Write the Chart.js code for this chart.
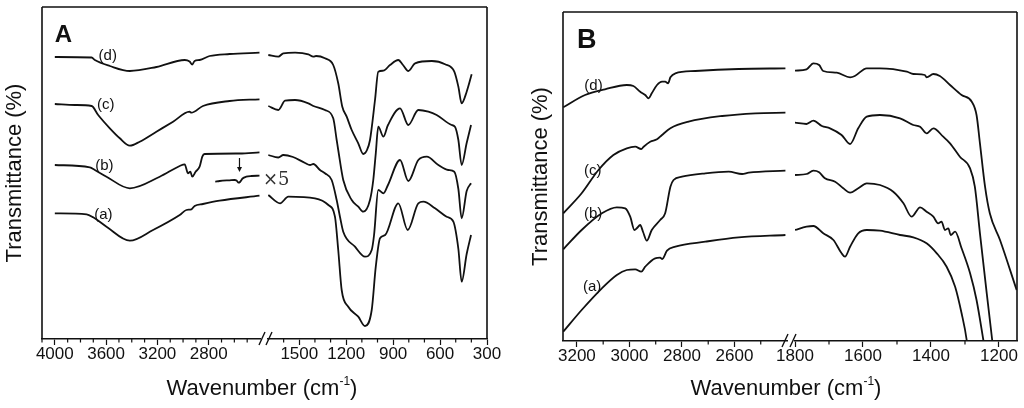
<!DOCTYPE html>
<html>
<head>
<meta charset="utf-8">
<script src="https://cdn.jsdelivr.net/npm/chart.js@4.4.1/dist/chart.umd.min.js"></script>
<style>
  html, body { margin: 0; padding: 0; background: #fff; }
  #wrap { position: relative; width: 1024px; height: 408px; overflow: hidden; font-family: "Liberation Sans", Arial, sans-serif; }
  canvas { position: absolute; top: 0; }
  .xtitle { position: absolute; top: 377px; font-size: 22px; line-height: 22px; white-space: nowrap; transform: translateX(-50%); color: #111; }
  .xtitle sup { font-size: 12px; vertical-align: 0; position: relative; top: -10px; }
</style>
</head>
<body>
<div id="wrap">
  <canvas id="aLeft" width="275" height="408" style="left:0px"></canvas>
  <canvas id="aRight" width="250" height="408" style="left:255px"></canvas>
  <canvas id="bLeft" width="274" height="408" style="left:526px"></canvas>
  <canvas id="bRight" width="252" height="408" style="left:772px"></canvas>
  <div class="xtitle" style="left:262px">Wavenumber (cm<sup>-1</sup>)</div>
  <div class="xtitle" style="left:786px">Wavenumber (cm<sup>-1</sup>)</div>
</div>
<script>
// tick labels
const aLeftTicks = [4000, 3600, 3200, 2800];
const aRightTicks = [1500, 1200, 900, 600, 300];
const bLeftTicks = [3200, 3000, 2800, 2600];
const bRightTicks = [1800, 1600, 1400, 1200];

const curveNames = ["(a)", "(b)", "(c)", "(d)"];

// panel A, 4000-2400 cm-1 (transmittance, arbitrary offset units)
const aL_d_wn = [4000, 3713, 3688, 3571, 3415, 3208, 2987, 2949, 2928, 2910, 2871, 2793, 2637, 2404];
const aL_d_t = [282, 281.5, 279, 273, 268, 272, 279, 277.5, 274.5, 278, 279, 283, 285, 286.3];
const aL_c_wn = [4000, 3843, 3713, 3662, 3571, 3493, 3415, 3338, 3208, 3078, 2949, 2935, 2845, 2637, 2404];
const aL_c_t = [235, 234, 233, 224, 210.7, 200.7, 193.3, 197.3, 207.3, 217.3, 227.3, 226.3, 233, 238, 239.7];
const aL_b_wn = [4000, 3727, 3688, 3597, 3415, 3182, 3026, 2987, 2962, 2943, 2928, 2902, 2871, 2850, 2832, 2560, 2404];
const aL_b_t = [174, 171.7, 169, 162.3, 150.7, 162.3, 173, 174.7, 165.7, 167.3, 162.3, 167.3, 172.3, 182.3, 185, 185.5, 186.7];
const aL_a_wn = [4000, 3752, 3701, 3597, 3415, 3234, 3026, 2974, 2935, 2910, 2845, 2715, 2404];
const aL_a_t = [125.7, 124.7, 121.7, 112.3, 98.3, 109, 124, 129, 129.7, 133, 135, 138.3, 143.3];
// (b) x5 inset
const aL_x5_wn = [2749, 2715, 2637, 2598, 2583, 2567, 2556, 2536, 2507, 2466, 2404];
const aL_x5_t = [157.3, 158, 158.7, 159, 158.5, 156.3, 157, 160.5, 162.3, 163, 163.3];

// panel A, 1700-300 cm-1
const aR_d_wn = [1698, 1634, 1602, 1527, 1442, 1410, 1393, 1336, 1283, 1251, 1225, 1197, 1165, 1123, 1091, 1067, 1048, 1016, 995, 962, 920, 867, 837, 803, 760, 653, 568, 509, 483, 462, 430, 398];
const aR_d_t = [284, 282.3, 285.7, 286.3, 284.7, 282.3, 283, 280.7, 274, 255.7, 232.3, 222.3, 209, 195.7, 185, 189, 199, 239, 267.3, 268.3, 274, 279, 274, 268, 275.7, 278, 274.7, 267.3, 252.3, 235.7, 247.3, 264.7];
const aR_c_wn = [1698, 1634, 1591, 1527, 1442, 1410, 1336, 1283, 1261, 1251, 1219, 1165, 1123, 1091, 1048, 1027, 1011, 995, 962, 933, 856, 803, 739, 675, 622, 526, 505, 483, 462, 430, 402];
const aR_c_t = [233, 229, 238.3, 239, 235.7, 233, 229, 220.7, 199, 189, 159, 139, 132.3, 127.3, 139, 159, 185.7, 212.3, 202.3, 214, 230.7, 214, 229, 227.3, 224, 214, 212.3, 199, 174, 196, 214];
const aR_b_wn = [1698, 1634, 1602, 1540, 1463, 1431, 1410, 1368, 1336, 1293, 1261, 1240, 1219, 1144, 1080, 1037, 1022, 995, 962, 933, 856, 803, 739, 685, 611, 548, 509, 483, 462, 430, 402];
const aR_b_t = [184, 181.5, 184, 182, 176, 174, 175, 169, 165.7, 159, 139, 122.3, 107.3, 92.3, 82.3, 89, 104, 149, 145.7, 154, 179, 158, 179, 182.3, 174, 169, 167.3, 150, 120.7, 148, 155.7];
const aR_a_wn = [1698, 1623, 1570, 1400, 1314, 1272, 1251, 1229, 1187, 1123, 1080, 1037, 1011, 984, 951, 867, 807, 739, 707, 632, 558, 515, 483, 462, 430, 402];
const aR_a_t = [144, 135.7, 142.3, 140.7, 134, 122.3, 89, 49, 32.3, 22.3, 13, 29, 72.3, 100.7, 104, 135.7, 109, 135.7, 137.3, 130.7, 122.3, 117.3, 90, 57.3, 85, 104];

// panel B, 3250-2400 cm-1
const bL_d_wn = [3252, 3169, 3093, 3010, 2985, 2959, 2940, 2927, 2915, 2895, 2876, 2864, 2853, 2844, 2825, 2749, 2584, 2406];
const bL_d_t = [233.7, 246, 251.7, 256, 255, 249.3, 246, 242.7, 247.7, 256, 259.3, 259.3, 257.7, 263.7, 267.7, 270, 272, 272.7];
const bL_c_wn = [3252, 3182, 3118, 3061, 3010, 2978, 2955, 2946, 2921, 2895, 2876, 2844, 2775, 2647, 2520, 2406];
const bL_c_t = [127.7, 147.7, 171, 186, 192.7, 194.3, 192, 194.3, 199.3, 201.7, 206, 212.7, 219.3, 225, 227.7, 228.3];
const bL_b_wn = [3252, 3182, 3105, 3048, 3016, 2997, 2981, 2972, 2959, 2948, 2934, 2915, 2883, 2864, 2844, 2832, 2800, 2711, 2622, 2571, 2546, 2406];
const bL_b_t = [91.7, 111, 127.7, 133.7, 132.7, 124.3, 111, 112.7, 116, 109, 100.3, 111, 121, 127.7, 154.3, 161, 164.3, 167.7, 169.3, 167, 168.3, 170.3];
const bL_a_wn = [3252, 3182, 3105, 3048, 3010, 2978, 2955, 2940, 2902, 2883, 2875, 2857, 2825, 2711, 2584, 2406];
const bL_a_t = [9.3, 31, 52.7, 66, 71, 71.7, 69.3, 74.3, 82.7, 83.3, 82, 90.3, 94.3, 99.3, 103.7, 106];

// panel B, 1800-1150 cm-1
const bR_d_wn = [1800, 1766, 1746, 1729, 1717, 1677, 1638, 1624, 1589, 1550, 1471, 1452, 1418, 1413, 1393, 1374, 1344, 1310, 1280, 1266, 1256, 1241, 1227, 1197, 1148];
const bR_d_t = [270.3, 271.7, 277.7, 276, 270, 268.3, 263.7, 265, 272.7, 272.7, 269.3, 267, 266, 263.7, 267, 265, 256, 246, 239.3, 226, 197.7, 154.3, 127.7, 101, 51];
const bR_c_wn = [1800, 1766, 1746, 1721, 1697, 1663, 1638, 1614, 1589, 1550, 1491, 1452, 1432, 1413, 1393, 1364, 1344, 1315, 1285, 1271, 1256, 1236, 1220, 1210];
const bR_c_t = [218.3, 217, 220.3, 215, 212.7, 206, 197, 212.7, 224.3, 226, 222.7, 216, 214.3, 207.7, 212.7, 204.3, 197.7, 184.3, 172.7, 154.3, 107.7, 47.7, 1, -30];
const bR_b_wn = [1800, 1766, 1746, 1729, 1712, 1682, 1658, 1638, 1614, 1589, 1550, 1511, 1481, 1457, 1432, 1413, 1393, 1379, 1369, 1359, 1349, 1342, 1329, 1310, 1285, 1266, 1246, 1236];
const bR_b_t = [166, 167, 170.3, 168.7, 162.7, 159.3, 152.7, 148.3, 152.7, 157.7, 156, 149.3, 137.7, 124.3, 133.7, 129.3, 124.3, 117.7, 119.3, 111, 112.7, 106, 109.3, 92.7, 67.7, 41, 1, -20];
const bR_a_wn = [1800, 1766, 1746, 1717, 1687, 1663, 1653, 1638, 1614, 1589, 1550, 1491, 1452, 1413, 1383, 1354, 1329, 1310, 1295, 1285];
const bR_a_t = [111, 114.3, 115, 107.7, 101, 87.7, 84.3, 94.3, 107.7, 111, 110.3, 106, 103.7, 97.7, 87.7, 74.3, 54.3, 27.7, 1, -30];

const FONT = '"Liberation Sans", Arial, sans-serif';
const INK = "#111";

function series(wn, t) {
  return {
    data: wn.map((w, i) => ({ x: w, y: t[i] })),
    borderColor: INK,
    borderWidth: 1.8,
    pointRadius: 0,
    fill: false,
    cubicInterpolationMode: "monotone",
  };
}

// frame sides, minor ticks, axis break, curve labels
const decor = {
  id: "decor",
  afterDatasetsDraw(chart, args, opts) {
    const ctx = chart.ctx;
    const a = chart.chartArea;
    const xs = chart.scales.x;
    const ys = chart.scales.y;
    ctx.save();
    ctx.strokeStyle = INK;
    ctx.lineWidth = 1.6;
    ctx.beginPath();
    ctx.moveTo(a.left, a.top);
    ctx.lineTo(a.right + (opts.topExtend || 0), a.top);
    if (opts.side === "left") {
      ctx.moveTo(a.left, a.top);
      ctx.lineTo(a.left, a.bottom);
    } else {
      ctx.moveTo(a.right, a.top);
      ctx.lineTo(a.right, a.bottom);
    }
    ctx.stroke();

    ctx.lineWidth = 1.2;
    ctx.beginPath();
    xs.ticks.forEach((t) => {
      if (opts.major.includes(t.value) || t.value === opts.skip) return;
      const px = xs.getPixelForValue(t.value);
      ctx.moveTo(px, a.bottom);
      ctx.lineTo(px, a.bottom + 3.5);
    });
    ctx.stroke();

    if (opts.brk) {
      const b = opts.brk;
      ctx.lineWidth = 1.4;
      ctx.beginPath();
      ctx.moveTo(a.right + b[0], a.bottom + 6);
      ctx.lineTo(a.right + b[0] + 6, a.bottom - 7);
      ctx.moveTo(a.right + b[1], a.bottom + 6);
      ctx.lineTo(a.right + b[1] + 6, a.bottom - 7);
      ctx.stroke();
    }

    if (opts.arrow) {
      const ar = opts.arrow;
      const px = xs.getPixelForValue(ar.x);
      const y1 = ys.getPixelForValue(ar.from);
      const y2 = ys.getPixelForValue(ar.to);
      ctx.lineWidth = 1.2;
      ctx.beginPath();
      ctx.moveTo(px, y1);
      ctx.lineTo(px, y2 - 4);
      ctx.stroke();
      ctx.fillStyle = INK;
      ctx.beginPath();
      ctx.moveTo(px - 2.5, y2 - 5);
      ctx.lineTo(px + 2.5, y2 - 5);
      ctx.lineTo(px, y2);
      ctx.closePath();
      ctx.fill();
    }

    (opts.labels || []).forEach((l) => {
      ctx.font = l.font;
      ctx.fillStyle = l.color || INK;
      ctx.textAlign = l.align || "center";
      ctx.textBaseline = l.baseline || "middle";
      ctx.fillText(l.text, xs.getPixelForValue(l.x), ys.getPixelForValue(l.y));
    });
    ctx.restore();
  },
};

// empty side box, keeps the plot edge fixed when an edge tick label overhangs
function spacer(position, width) {
  return {
    type: "linear",
    position: position,
    ticks: { display: false },
    grid: { display: false },
    border: { display: false },
    afterFit: (s) => {
      s.width = width;
    },
  };
}

function makeChart(id, cfg) {
  const yAxis = {
    position: cfg.side,
    min: 0,
    max: cfg.yMax,
    ticks: { display: false },
    grid: { display: false },
    border: { display: false },
    title: {
      display: !!cfg.yTitle,
      text: cfg.yTitle || "",
      color: INK,
      padding: { top: 2, bottom: 2 },
      font: { size: 22, family: FONT },
    },
    afterFit: (s) => {
      s.width = cfg.yWidth;
    },
  };
  const scales = {
    x: {
      type: "linear",
      reverse: true,
      min: cfg.xMin,
      max: cfg.xMax,
      ticks: {
        stepSize: 100,
        autoSkip: false,
        maxRotation: 0,
        includeBounds: false,
        padding: 1,
        color: INK,
        font: { size: 17, family: FONT, lineHeight: 1.0 },
        callback: (v) => (cfg.major.includes(v) ? String(v) : ""),
      },
      grid: {
        display: true,
        drawOnChartArea: false,
        drawTicks: true,
        tickLength: 6,
        tickWidth: 1.2,
        tickColor: (c) => (c.tick && cfg.major.includes(c.tick.value) ? INK : "rgba(0,0,0,0)"),
      },
      border: { display: true, color: INK, width: 1.6 },
      afterFit: (s) => {
        s.height = cfg.xHeight;
      },
    },
    y: yAxis,
  };
  if (cfg.spacer) {
    scales.pad = spacer(cfg.spacer[0], cfg.spacer[1]);
  }
  return new Chart(document.getElementById(id), {
    type: "line",
    data: { datasets: cfg.datasets },
    options: {
      responsive: false,
      animation: false,
      layout: { padding: cfg.padding },
      scales: scales,
      plugins: {
        legend: { display: false },
        tooltip: { enabled: false },
        decor: cfg.decor,
      },
    },
    plugins: [decor],
  });
}

const labelFontA = "15px " + FONT;
const labelFontB = "15px " + FONT;

makeChart("aLeft", {
  side: "left",
  yWidth: 42,
  yMax: 332,
  yTitle: "Transmittance (%)",
  xMin: 2400,
  xMax: 4100,
  xHeight: 69,
  padding: { left: 0, right: 15, top: 7, bottom: 0 },
  major: aLeftTicks,
  datasets: [
    series(aL_d_wn, aL_d_t),
    series(aL_c_wn, aL_c_t),
    series(aL_b_wn, aL_b_t),
    series(aL_a_wn, aL_a_t),
    series(aL_x5_wn, aL_x5_t),
  ],
  decor: {
    side: "left",
    topExtend: 8,
    major: aLeftTicks,
    skip: 2400,
    brk: [-1, 6],
    arrow: { x: 2560, from: 181, to: 167 },
    labels: [
      { text: "A", x: 4000, y: 297, font: "bold 24px " + FONT, align: "left", baseline: "alphabetic" },
      { text: curveNames[3], x: 3587, y: 283.5, font: labelFontA },
      { text: curveNames[2], x: 3602, y: 234, font: labelFontA },
      { text: curveNames[1], x: 3614, y: 173, font: labelFontA },
      { text: curveNames[0], x: 3622, y: 124.5, font: labelFontA },
    ],
  },
});

makeChart("aRight", {
  side: "right",
  yWidth: 18,
  yMax: 332,
  xMin: 300,
  xMax: 1700,
  xHeight: 69,
  padding: { left: 13, right: 0, top: 7, bottom: 0 },
  major: aRightTicks,
  datasets: [
    series(aR_d_wn, aR_d_t),
    series(aR_c_wn, aR_c_t),
    series(aR_b_wn, aR_b_t),
    series(aR_a_wn, aR_a_t),
  ],
  decor: {
    side: "right",
    major: aRightTicks,
    skip: 1700,
    labels: [
      { text: "\u00d75", x: 1732, y: 154, font: "18px 'DejaVu Serif', serif", align: "left", baseline: "alphabetic", color: "#333" },
    ],
  },
});

makeChart("bLeft", {
  side: "left",
  yWidth: 37,
  yMax: 329,
  yTitle: "Transmittance (%)",
  xMin: 2400,
  xMax: 3253,
  xHeight: 67,
  padding: { left: 0, right: 13, top: 12, bottom: 0 },
  major: bLeftTicks,
  datasets: [
    series(bL_d_wn, bL_d_t),
    series(bL_c_wn, bL_c_t),
    series(bL_b_wn, bL_b_t),
    series(bL_a_wn, bL_a_t),
  ],
  decor: {
    side: "left",
    topExtend: 8,
    major: bLeftTicks,
    skip: 2400,
    brk: [-5, 3],
    labels: [
      { text: "B", x: 3200, y: 293, font: "bold 27px " + FONT, align: "left", baseline: "alphabetic" },
      { text: curveNames[3], x: 3137, y: 255, font: labelFontB },
      { text: curveNames[2], x: 3140, y: 170.5, font: labelFontB },
      { text: curveNames[1], x: 3138, y: 127.5, font: labelFontB },
      { text: curveNames[0], x: 3142, y: 54.3, font: labelFontB },
    ],
  },
});

makeChart("bRight", {
  side: "right",
  yWidth: 7,
  yMax: 329,
  xMin: 1147,
  xMax: 1800,
  xHeight: 67,
  padding: { left: 0, right: 0, top: 12, bottom: 0 },
  spacer: ["left", 23],
  major: bRightTicks,
  datasets: [
    series(bR_d_wn, bR_d_t),
    series(bR_c_wn, bR_c_t),
    series(bR_b_wn, bR_b_t),
    series(bR_a_wn, bR_a_t),
  ],
  decor: {
    side: "right",
    major: bRightTicks,
    skip: 1800.5,
    labels: [],
  },
});
</script>
</body>
</html>
